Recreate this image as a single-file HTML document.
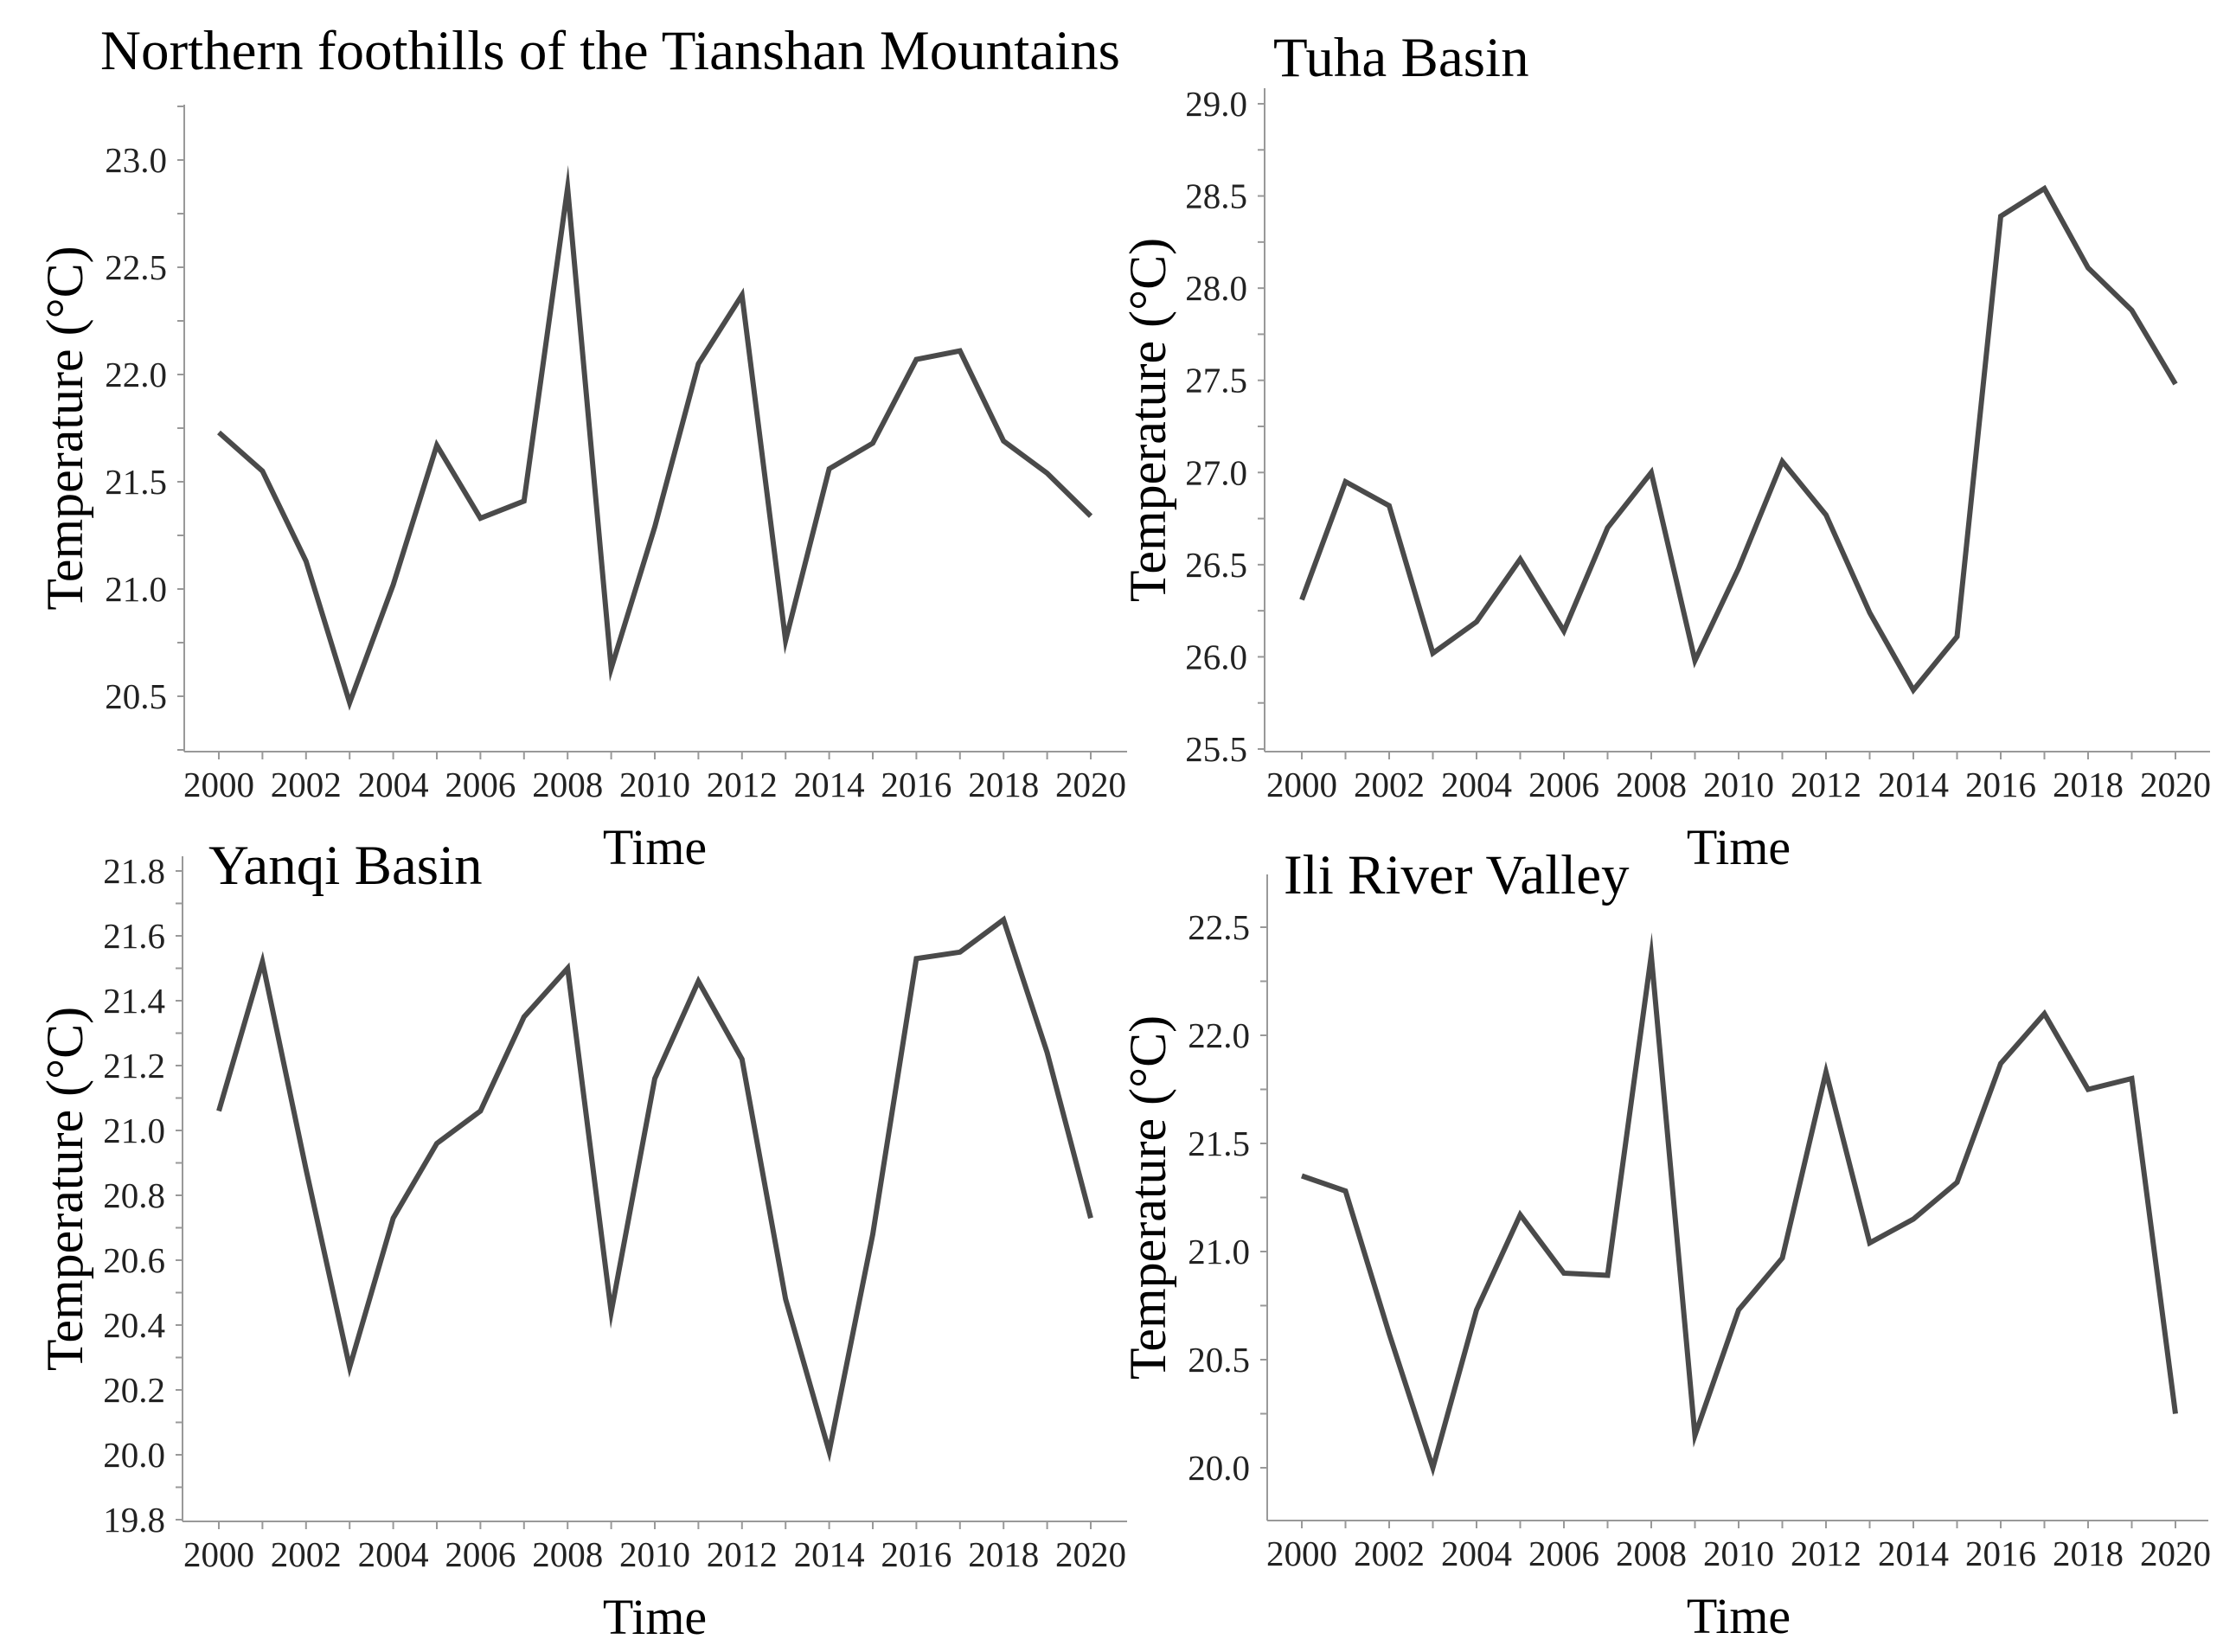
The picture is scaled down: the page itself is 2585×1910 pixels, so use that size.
<!DOCTYPE html>
<html><head><meta charset="utf-8">
<style>
html,body{margin:0;padding:0;background:#fff;}
svg{display:block;font-family:"Liberation Serif",serif;}
</style></head>
<body>
<svg id="chart" width="2585" height="1910" viewBox="0 0 2585 1910" xmlns="http://www.w3.org/2000/svg">
<rect width="2585" height="1910" fill="#fff"/>
</svg>
<script>
const years = [2000,2001,2002,2003,2004,2005,2006,2007,2008,2009,2010,2011,2012,2013,2014,2015,2016,2017,2018,2019,2020];
const xTickLabels = ["2000","2002","2004","2006","2008","2010","2012","2014","2016","2018","2020"];
const tianshanValues = [21.73,21.55,21.13,20.47,21.02,21.67,21.33,21.41,22.87,20.63,21.29,22.05,22.37,20.76,21.56,21.68,22.07,22.11,21.69,21.54,21.34];
const tuhaValues = [26.31,26.95,26.82,26.02,26.19,26.53,26.14,26.70,27.00,25.98,26.48,27.06,26.77,26.24,25.82,26.11,28.39,28.54,28.11,27.88,27.48];
const yanqiValues = [21.06,21.52,20.88,20.27,20.73,20.96,21.06,21.35,21.50,20.44,21.16,21.46,21.22,20.48,20.01,20.68,21.53,21.55,21.65,21.24,20.73];
const iliValues = [21.35,21.28,20.62,20.00,20.73,21.17,20.90,20.89,22.37,20.15,20.73,20.97,21.83,21.04,21.15,21.32,21.87,22.10,21.75,21.80,20.25];
const tianshanTicks = ["20.5","21.0","21.5","22.0","22.5","23.0"];
const tuhaTicks = ["25.5","26.0","26.5","27.0","27.5","28.0","28.5","29.0"];
const yanqiTicks = ["19.8","20.0","20.2","20.4","20.6","20.8","21.0","21.2","21.4","21.6","21.8"];
const iliTicks = ["20.0","20.5","21.0","21.5","22.0","22.5"];

const NS="http://www.w3.org/2000/svg";
const svg=document.getElementById('chart');
function mk(tag,attrs,parent){const e=document.createElementNS(NS,tag);for(const k in attrs)e.setAttribute(k,attrs[k]);(parent||svg).appendChild(e);return e;}

const panels=[
 {key:'tianshan',title:'Northern foothills of the Tianshan Mountains',tx:116,ty:80,vals:tianshanValues,ticks:tianshanTicks,
  ax:213,top:121,bot:869,right:1303,v0:20.5,p0:805,v1:23.0,p1:185,minor:0.25,x0:253,x1:1261,ytx:75},
 {key:'tuha',title:'Tuha Basin',tx:1472,ty:88,vals:tuhaValues,ticks:tuhaTicks,
  ax:1462,top:102,bot:869,right:2555,v0:25.5,p0:866,v1:29.0,p1:120,minor:0.25,x0:1505,x1:2515,ytx:1327},
 {key:'yanqi',title:'Yanqi Basin',tx:241,ty:1022,vals:yanqiValues,ticks:yanqiTicks,
  ax:211,top:990,bot:1759,right:1303,v0:19.8,p0:1757,v1:21.8,p1:1007,minor:0.1,x0:253,x1:1261,ytx:75},
 {key:'ili',title:'Ili River Valley',tx:1484,ty:1033,vals:iliValues,ticks:iliTicks,
  ax:1465,top:1011,bot:1758,right:2553,v0:20.0,p0:1697,v1:22.5,p1:1072,minor:0.25,x0:1505,x1:2515,ytx:1327}
];

panels.forEach(p=>{
  const g=mk('g',{});
  
  
  const yS=v=>p.p0+(v-p.v0)*(p.p1-p.p0)/(p.v1-p.v0);
  const xS=yr=>p.x0+(yr-years[0])*(p.x1-p.x0)/(years[years.length-1]-years[0]);
  const t=mk('text',{x:p.tx,y:p.ty,'font-size':65,fill:'#000'},g);
  t.textContent=p.title;
  
  
  const ya=mk('line',{x1:p.ax,y1:p.top,x2:p.ax,y2:p.bot,stroke:'#999','stroke-width':2},g);
  
  
  const xa=mk('line',{x1:p.ax,y1:p.bot,x2:p.right,y2:p.bot,stroke:'#999','stroke-width':2},g);
  
  
  const vmin=p.v0-(p.bot-p.p0)/((p.p0-p.p1)/(p.v1-p.v0));
  const vmax=p.v1+(p.p1-p.top)/((p.p0-p.p1)/(p.v1-p.v0));
  for(let v=Math.ceil(vmin/p.minor-1e-6)*p.minor; v<=vmax+1e-9; v+=p.minor){
    const y=yS(v);
    const m=mk('line',{x1:p.ax-8,y1:y,x2:p.ax,y2:y,stroke:'#999','stroke-width':2},g);
    
    
  }
  p.ticks.forEach(lb=>{
    const y=yS(parseFloat(lb));
    const tl=mk('text',{x:p.ax-20,y:y+14,'font-size':41,'text-anchor':'end',fill:'#222'},g);
    tl.textContent=lb;
    
    
  });
  years.forEach(yr=>{
    const x=xS(yr);
    const m=mk('line',{x1:x,y1:p.bot,x2:x,y2:p.bot+9,stroke:'#999','stroke-width':2},g);
    
    
  });
  xTickLabels.forEach(lb=>{
    const x=xS(parseInt(lb));
    const tl=mk('text',{x:x,y:p.bot+52,'font-size':41,'text-anchor':'middle',fill:'#222'},g);
    tl.textContent=lb;
    
    
  });
  const xt=mk('text',{x:(p.x0+p.x1)/2,y:p.bot+130,'font-size':58,'text-anchor':'middle',fill:'#000'},g);
  xt.textContent='Time';
  
  
  const cy=(p.top+p.bot)/2;
  const yt=mk('text',{x:p.ytx+20,y:cy,'font-size':60,'text-anchor':'middle',fill:'#000',transform:`rotate(-90 ${p.ytx+20} ${cy})`},g);
  yt.textContent='Temperature (°C)';
  
  
  const pts=p.vals.map((v,i)=>xS(years[i]).toFixed(1)+','+yS(v).toFixed(1)).join(' ');
  const line=mk('polyline',{points:pts,fill:'none',stroke:'#4a4a4a','stroke-width':6,'stroke-linejoin':'miter','stroke-miterlimit':10},g);
  
  
});
</script>
</body></html>
